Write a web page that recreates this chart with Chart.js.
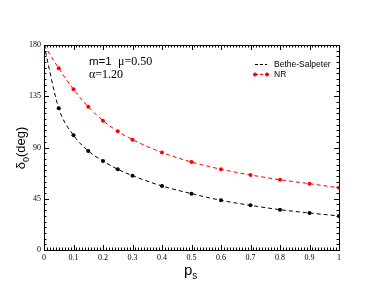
<!DOCTYPE html>
<html><head><meta charset="utf-8">
<script src="https://cdn.jsdelivr.net/npm/chart.js@4/dist/chart.umd.min.js"></script>
<style>html,body{margin:0;padding:0;background:#fff}#wrap{width:382px;height:295px}</style>
</head><body><div id="wrap"><canvas id="c" width="382" height="295"></canvas></div>
<script>
const ps = [0, 0.05, 0.1, 0.15, 0.2, 0.25, 0.3, 0.4, 0.5, 0.6, 0.7, 0.8, 0.9, 1.0];
const betheSalpeter = [180, 124.4, 100.7, 87.0, 78.1, 70.9, 65.3, 56.2, 49.5, 43.6, 39.2, 35.4, 32.5, 29.9];
const nr = [180, 159.5, 141.1, 125.8, 113.5, 104.2, 96.9, 85.6, 77.3, 70.9, 65.9, 61.7, 58.2, 54.7];
const seriesNames = ['Bethe-Salpeter', 'NR'];
const xTicks = [0, 0.1, 0.2, 0.3, 0.4, 0.5, 0.6, 0.7, 0.8, 0.9, 1];
const yTicks = [0, 45, 90, 135, 180];
const annotM = 'm=1';
const annotMu = '\u03bc=0.50';
const annotAlpha = '\u03b1=1.20';

const serif = "'Liberation Serif', 'DejaVu Serif', serif";
const sans = "'Liberation Sans', Arial, sans-serif";

const toXY = (xs, ys) => xs.map((x, i) => ({x: x, y: ys[i]}));

const framePlugin = {
  id: 'frame',
  afterDatasetsDraw(chart) {
    const ctx = chart.ctx, a = chart.chartArea;
    const xs = chart.scales.x, ys = chart.scales.y;
    ctx.save();
    ctx.strokeStyle = '#000';
    ctx.lineWidth = 1;
    ctx.strokeRect(a.left + 0.5, a.top + 0.5, a.right - a.left, a.bottom - a.top);
    ctx.beginPath();
    for (let k = 0; k <= 100; k++) {
      const v = k / 100;
      const px = Math.round(xs.getPixelForValue(v)) + 0.5;
      const major = k % 10 === 0;
      const len = major ? 5 : 2.5;
      ctx.moveTo(px, a.bottom); ctx.lineTo(px, a.bottom - len);
      ctx.moveTo(px, a.top); ctx.lineTo(px, a.top + len);
    }
    for (let v = 0; v <= 180; v += 5) {
      const py = Math.round(ys.getPixelForValue(v)) + 0.5;
      const major = v % 45 === 0;
      const len = major ? 5 : 2.5;
      ctx.moveTo(a.left, py); ctx.lineTo(a.left + len, py);
      ctx.moveTo(a.right, py); ctx.lineTo(a.right - len, py);
    }
    ctx.stroke();

    // annotations
    ctx.fillStyle = '#000';
    ctx.textBaseline = 'alphabetic';
    ctx.textAlign = 'left';
    ctx.font = '11.5px ' + sans;
    ctx.fillText(annotM, 89, 65);
    const mw = ctx.measureText(annotM + '  ').width;
    ctx.font = '12px ' + serif;
    ctx.fillText(annotMu, 89 + mw, 65);
    ctx.fillText(annotAlpha, 89, 78);

    // legend
    const lx = 255, lx2 = 267;
    const ly1 = 64, ly2 = 74;
    ctx.font = '8.5px ' + sans;
    ctx.textBaseline = 'middle';
    ctx.lineWidth = 1;
    ctx.setLineDash([3, 2]);
    ctx.strokeStyle = '#000';
    ctx.beginPath(); ctx.moveTo(lx, ly1 + 0.5); ctx.lineTo(lx2, ly1 + 0.5); ctx.stroke();
    ctx.strokeStyle = '#ff0000';
    ctx.beginPath(); ctx.moveTo(lx, ly2 + 0.5); ctx.lineTo(lx2, ly2 + 0.5); ctx.stroke();
    ctx.setLineDash([]);
    ctx.fillStyle = '#ff0000';
    [lx, lx2].forEach(px => { ctx.beginPath(); ctx.arc(px, ly2 + 0.5, 2, 0, Math.PI * 2); ctx.fill(); });
    ctx.fillStyle = '#000';
    ctx.fillText(seriesNames[0], 274, ly1 + 1);
    ctx.fillText(seriesNames[1], 274, ly2 + 1);

    // axis titles
    ctx.textBaseline = 'alphabetic';
    ctx.font = '15px ' + sans;
    const tx = 184;
    ctx.fillText('p', tx, 275);
    const pw = ctx.measureText('p').width;
    ctx.font = '10px ' + sans;
    ctx.fillText('s', tx + pw, 279);

    ctx.save();
    ctx.translate(25, 148);
    ctx.rotate(-Math.PI / 2);
    ctx.font = '13px ' + sans;
    const d = '\u03b4', rest = '(deg)';
    const dw = ctx.measureText(d).width;
    ctx.font = '9px ' + sans;
    const zw = ctx.measureText('0').width;
    ctx.font = '13px ' + sans;
    const rw = ctx.measureText(rest).width;
    const total = dw + zw + rw;
    let sx = -total / 2;
    ctx.fillText(d, sx, 0);
    ctx.font = '9px ' + sans;
    ctx.fillText('0', sx + dw, 4);
    ctx.font = '13px ' + sans;
    ctx.fillText(rest, sx + dw + zw, 0);
    ctx.restore();
    ctx.restore();
  }
};

new Chart(document.getElementById('c'), {
  type: 'scatter',
  data: {
    datasets: [
      {label: seriesNames[0], data: toXY(ps, betheSalpeter), showLine: true, borderColor: '#000', backgroundColor: '#000',
       borderWidth: 1, borderDash: [4, 3], pointRadius: 2, pointBorderWidth: 0, cubicInterpolationMode: 'monotone'},
      {label: seriesNames[1], data: toXY(ps, nr), showLine: true, borderColor: '#ff0000', backgroundColor: '#ff0000',
       borderWidth: 1, borderDash: [4, 3], pointRadius: 2, pointBorderWidth: 0, cubicInterpolationMode: 'monotone'}
    ]
  },
  options: {
    responsive: false,
    animation: false,
    devicePixelRatio: 1,
    layout: {padding: {top: 45, right: 43, left: 0, bottom: 0}},
    plugins: {legend: {display: false}, tooltip: {enabled: false}},
    scales: {
      x: {
        type: 'linear', min: 0, max: 1,
        afterFit(s) { s.height = 45; },
        afterBuildTicks(s) { s.ticks = xTicks.map(v => ({value: v})); },
        grid: {display: false, drawTicks: false},
        border: {display: false},
        ticks: {color: '#000', font: {family: serif, size: 8}, padding: 3, maxRotation: 0,
                callback: v => String(v)}
      },
      y: {
        type: 'linear', min: 0, max: 180,
        afterFit(s) { s.width = 44; },
        afterBuildTicks(s) { s.ticks = yTicks.map(v => ({value: v})); },
        grid: {display: false, drawTicks: false},
        border: {display: false},
        ticks: {color: '#000', font: {family: serif, size: 8}, padding: 3, callback: v => String(v)}
      }
    }
  },
  plugins: [framePlugin]
});
</script>
</body></html>
